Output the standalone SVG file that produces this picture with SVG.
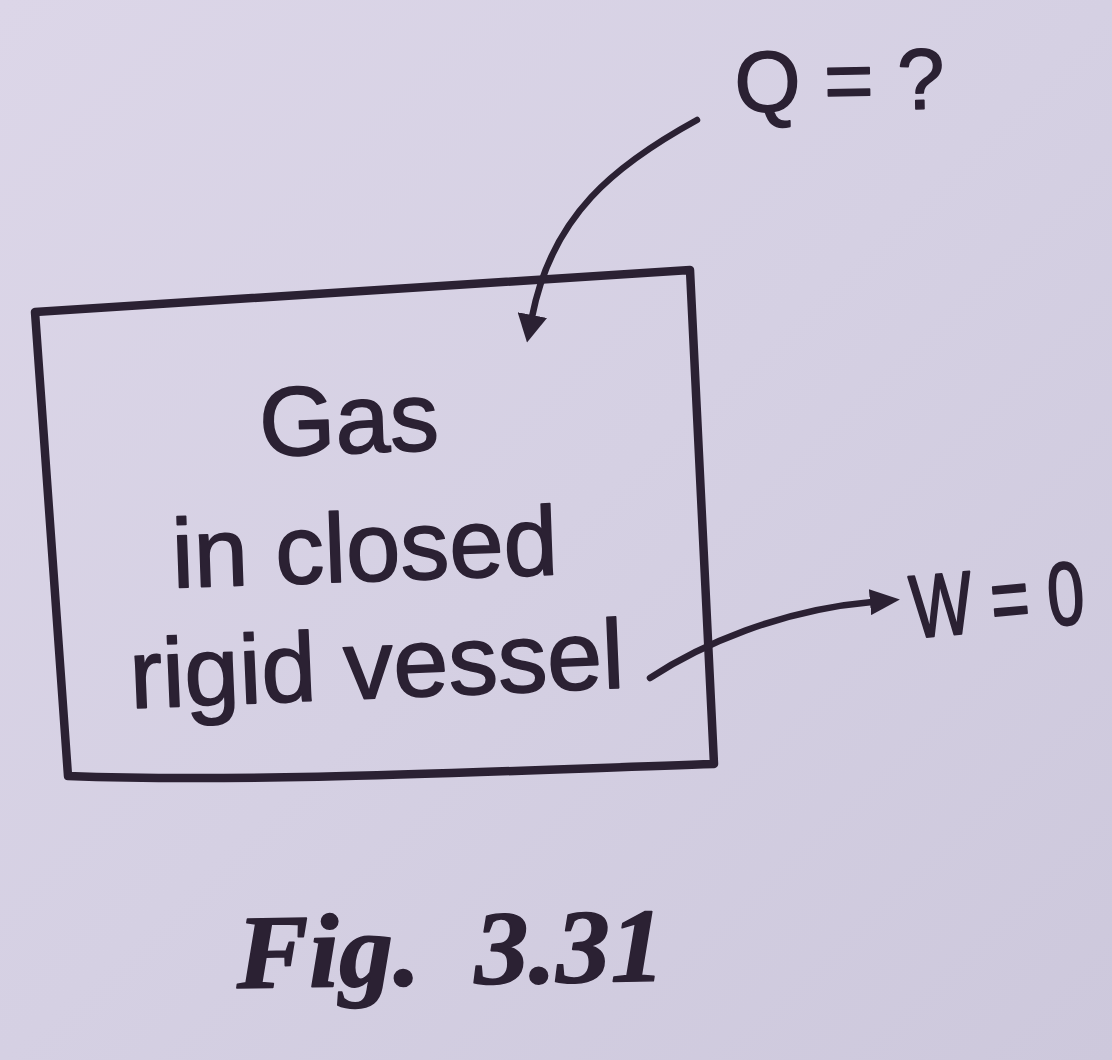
<svg xmlns="http://www.w3.org/2000/svg" width="1112" height="1060" viewBox="0 0 1112 1060">
  <style>
    .ink { fill: #2b2133; stroke: #2b2133; stroke-width: 1.6; stroke-linejoin: round; }
    .line { fill: none; stroke: #2b2133; stroke-linecap: round; stroke-linejoin: round; }
    .sans { font-family: "Liberation Sans", Arial, sans-serif; }
    .cap { font-family: "Liberation Serif", "Times New Roman", serif; font-weight: bold; font-style: italic; }
  </style>
  <defs>
    <linearGradient id="bg" x1="0" y1="0" x2="1" y2="1">
      <stop offset="0" stop-color="#dcd6e8"/>
      <stop offset="0.5" stop-color="#d5d0e3"/>
      <stop offset="1" stop-color="#cdc8dc"/>
    </linearGradient>
    <marker id="headQ" viewBox="0 0 28 30" refX="2" refY="15" markerWidth="28" markerHeight="30" markerUnits="userSpaceOnUse" orient="auto">
      <path d="M0,0 L28,15 L0,30 Z" fill="#2b2133"/>
    </marker>
    <marker id="headW" viewBox="0 0 30 26" refX="2" refY="13" markerWidth="30" markerHeight="26" markerUnits="userSpaceOnUse" orient="auto">
      <path d="M0,0 L30,13 L0,26 Z" fill="#2b2133"/>
    </marker>
  </defs>
  <rect x="0" y="0" width="1112" height="1060" fill="url(#bg)"/>

  <g id="vessel">
    <path class="line" stroke-width="8.5" d="M35,312 L690,270 L714,764 C 500,771 250,783 68,776 Z"/>
    <text class="ink sans" font-size="98" text-anchor="middle" x="350" y="453" transform="rotate(-2 350 453)">Gas</text>
    <text class="ink sans" font-size="98" text-anchor="middle" x="366" y="581" textLength="386" lengthAdjust="spacingAndGlyphs" transform="rotate(-2 366 581)">in closed</text>
    <text class="ink sans" font-size="98" text-anchor="middle" x="378" y="698" textLength="495" lengthAdjust="spacingAndGlyphs" transform="rotate(-2.4 378 698)">rigid vessel</text>
  </g>

  <g id="heat">
    <text class="ink sans" font-size="86" x="735" y="112" textLength="210" lengthAdjust="spacingAndGlyphs" transform="rotate(-1 735 112)">Q = ?</text>
  </g>

  <g id="work">
    <text class="ink sans" font-size="66" x="0" y="0" transform="translate(913 638) rotate(-5) scale(1 1.35)">W = 0</text>
  </g>

  <g id="connectors">
    <path class="line" stroke-width="6.5" d="M697,120 C 615,165 552,215 532,317" marker-end="url(#headQ)"/>
    <path class="line" stroke-width="6.5" d="M650,678 C 700,645 780,610 872,602" marker-end="url(#headW)"/>
  </g>

  <g id="caption">
    <text class="ink cap" font-size="105" x="237" y="988" textLength="428" lengthAdjust="spacingAndGlyphs" transform="rotate(-1 237 988)">Fig.&#160; 3.31</text>
  </g>
</svg>
